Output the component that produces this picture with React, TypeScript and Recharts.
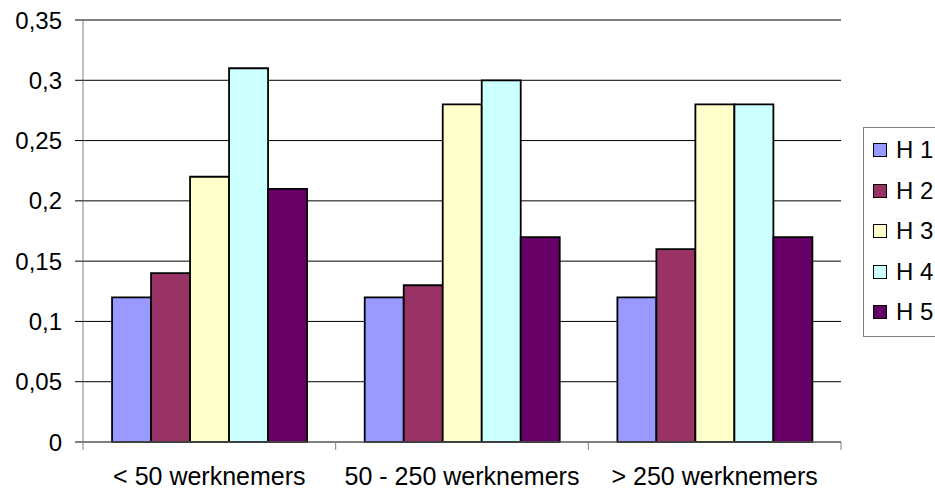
import { BarChart, Bar, XAxis, YAxis, CartesianGrid } from "recharts";

// categorieën en waarden per reeks (H 1 .. H 5)
const categories = ["< 50 werknemers", "50 - 250 werknemers", "> 250 werknemers"];
const h1 = [0.12, 0.12, 0.12];
const h2 = [0.14, 0.13, 0.16];
const h3 = [0.22, 0.28, 0.28];
const h4 = [0.31, 0.3, 0.28];
const h5 = [0.21, 0.17, 0.17];
const seriesNames = ["H 1", "H 2", "H 3", "H 4", "H 5"];
const yTicks = [0, 0.05, 0.1, 0.15, 0.2, 0.25, 0.3, 0.35];

const COLORS = ["#9999FF", "#993366", "#FFFFCC", "#CCFFFF", "#660066"];
const seriesValues = [h1, h2, h3, h4, h5];

const WIDTH = 935;
const HEIGHT = 492;
const MARGIN = { top: 20, right: 94, bottom: 10, left: 0 };
const Y_AXIS_W = 83;
const FONT = 24;
const X_FONT = 25;
const bandWidth = (WIDTH - MARGIN.left - MARGIN.right - Y_AXIS_W) / categories.length;

const data = categories.map((name, i) => {
  const row: Record<string, string | number> = { name };
  seriesNames.forEach((s, k) => {
    row[s] = seriesValues[k][i];
  });
  return row;
});

const fmt = (v: number) => String(v).replace(".", ",");

// x-as label met streepjes op de grenzen tussen de categorieën
function CategoryTick(props: any) {
  const { x, y, payload, index } = props;
  const left = x - bandWidth / 2;
  return (
    <g>
      <line x1={left} y1={y} x2={left} y2={y + 8} stroke="#808080" />
      {index === categories.length - 1 && (
        <line x1={x + bandWidth / 2} y1={y} x2={x + bandWidth / 2} y2={y + 8} stroke="#808080" />
      )}
      <text x={x} y={y + 43} textAnchor="middle" fontSize={X_FONT} fill="#000">
        {payload.value}
      </text>
    </g>
  );
}

export default function App() {
  return (
    <div
      style={{
        position: "absolute",
        left: 0,
        top: 0,
        width: WIDTH,
        height: HEIGHT,
        fontFamily: "'Liberation Sans', Arial, sans-serif",
        background: "#fff",
        overflow: "hidden",
      }}
    >
      <BarChart
        width={WIDTH}
        height={HEIGHT}
        data={data}
        margin={MARGIN}
        barCategoryGap="11.5%"
        barGap={0}
      >
        <CartesianGrid vertical={false} stroke="#000" />
        <XAxis
          dataKey="name"
          height={40}
          axisLine={{ stroke: "#808080" }}
          tickLine={false}
          tickSize={0}
          tickMargin={0}
          tick={<CategoryTick />}
          interval={0}
        />
        <YAxis
          width={Y_AXIS_W}
          domain={[0, 0.35]}
          ticks={yTicks}
          tickFormatter={fmt}
          axisLine={{ stroke: "#808080" }}
          tickLine={{ stroke: "#000" }}
          tickSize={8}
          tickMargin={13}
          tick={{ fontSize: FONT, fill: "#000" }}
          interval={0}
        />
        {seriesNames.map((s, k) => (
          <Bar
            key={s}
            dataKey={s}
            fill={COLORS[k]}
            stroke="#000"
            strokeWidth={1.8}
            isAnimationActive={false}
          />
        ))}
      </BarChart>
      <div
        style={{
          position: "absolute",
          left: 863,
          top: 127,
          width: 90,
          height: 210,
          border: "1px solid #808080",
          boxSizing: "border-box",
        }}
      >
        {seriesNames.map((s, k) => (
          <div
            key={s}
            style={{
              position: "absolute",
              left: 9,
              top: 8 + k * 40.5,
              height: 28,
              display: "flex",
              alignItems: "center",
              fontSize: FONT,
              whiteSpace: "nowrap",
            }}
          >
            <span
              style={{
                display: "inline-block",
                width: 14,
                height: 14,
                background: COLORS[k],
                border: "1px solid #000",
                boxSizing: "border-box",
                marginRight: 9,
              }}
            />
            {s}
          </div>
        ))}
      </div>
    </div>
  );
}
